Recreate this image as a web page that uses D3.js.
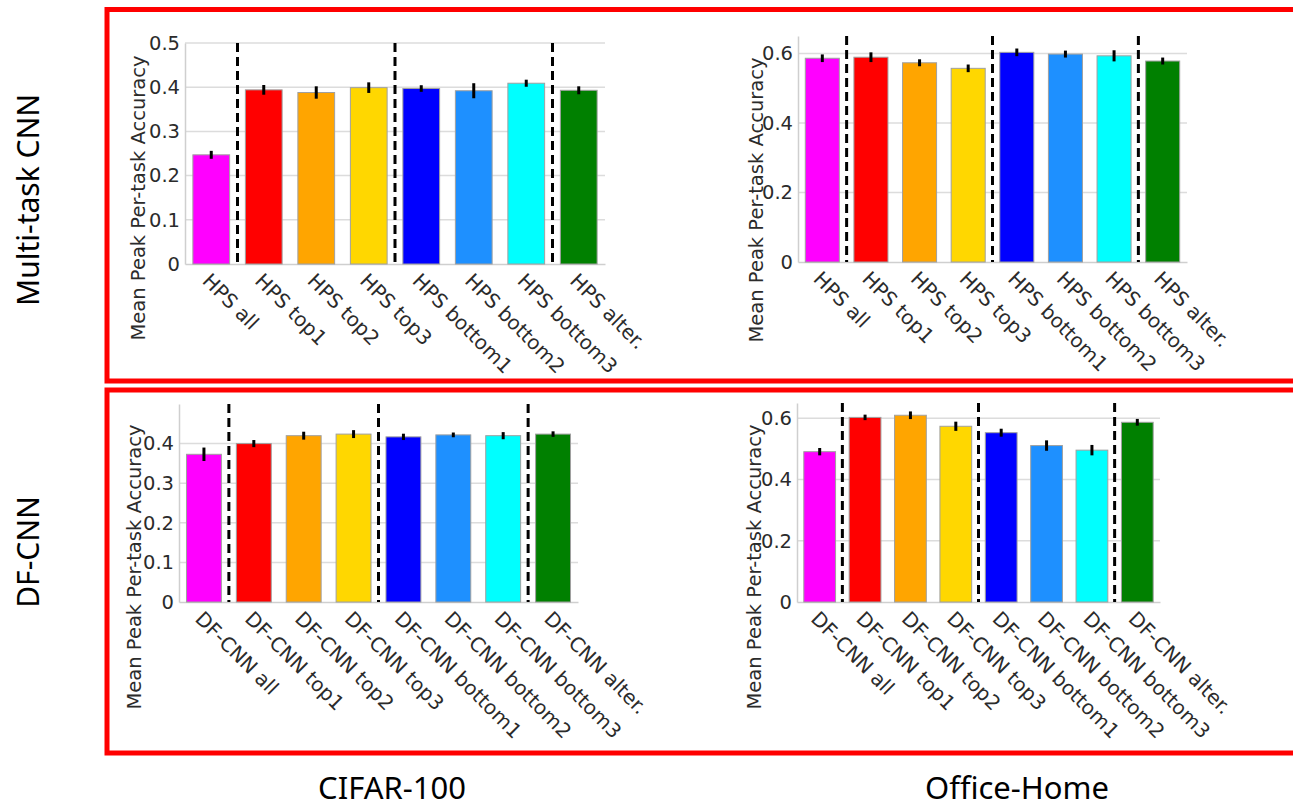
<!DOCTYPE html>
<html>
<head>
<meta charset="utf-8">
<script src="https://cdn.jsdelivr.net/npm/d3@7"></script>
<style>
	body { margin: 0; background: #fff; }
	svg { display: block; }
</style>
</head>
<body>
<script>
// DATA
const hpsCategories = ['HPS all', 'HPS top1', 'HPS top2', 'HPS top3', 'HPS bottom1', 'HPS bottom2', 'HPS bottom3', 'HPS alter.'];
const dfCategories = ['DF-CNN all', 'DF-CNN top1', 'DF-CNN top2', 'DF-CNN top3', 'DF-CNN bottom1', 'DF-CNN bottom2', 'DF-CNN bottom3', 'DF-CNN alter.'];

const hpsCifarMean = [0.247, 0.394, 0.388, 0.399, 0.397, 0.392, 0.409, 0.393];
const hpsCifarErr = [0.009, 0.011, 0.014, 0.012, 0.0075, 0.017, 0.008, 0.009];
const hpsOfficeMean = [0.586, 0.589, 0.573, 0.557, 0.603, 0.598, 0.593, 0.578];
const hpsOfficeErr = [0.011, 0.014, 0.010, 0.011, 0.011, 0.010, 0.016, 0.010];
const dfCifarMean = [0.373, 0.400, 0.420, 0.424, 0.417, 0.422, 0.420, 0.424];
const dfCifarErr = [0.017, 0.009, 0.010, 0.010, 0.008, 0.006, 0.009, 0.007];
const dfOfficeMean = [0.491, 0.603, 0.610, 0.574, 0.553, 0.511, 0.496, 0.587];
const dfOfficeErr = [0.012, 0.009, 0.0125, 0.015, 0.013, 0.017, 0.017, 0.011];

const cifarTicks = [0, 0.1, 0.2, 0.3, 0.4, 0.5];
const dfCifarTicks = [0, 0.1, 0.2, 0.3, 0.4];
const officeTicks = [0, 0.2, 0.4, 0.6];

// groups start before these categories (dashed separators)
const separators = [1, 4, 7];

const rowLabels = ['Multi-task CNN', 'DF-CNN'];
const columnLabels = ['CIFAR-100', 'Office-Home'];
const yLabel = 'Mean Peak Per-task Accuracy';

// CONFIGURATION
const width = 1293;
const height = 807;
const palette = ['#ff00ff', '#ff0000', '#ffa500', '#ffd700', '#0000ff', '#1e90ff', '#00ffff', '#008000'];
const tickFont = 'DejaVu Sans, sans-serif';
const textColor = '#2b2b2b';

const panels = [
	{ categories: hpsCategories, mean: hpsCifarMean, err: hpsCifarErr, ticks: cifarTicks, max: 0.5,
		left: 185, right: 605, top: 43, bottom: 264, labelX: 145, labelY: 198 },
	{ categories: hpsCategories, mean: hpsOfficeMean, err: hpsOfficeErr, ticks: officeTicks, max: 0.65,
		left: 798, right: 1187, top: 36, bottom: 262, labelX: 763, labelY: 200 },
	{ categories: dfCategories, mean: dfCifarMean, err: dfCifarErr, ticks: dfCifarTicks, max: 0.5,
		left: 179, right: 578, top: 404, bottom: 602, labelX: 141, labelY: 567 },
	{ categories: dfCategories, mean: dfOfficeMean, err: dfOfficeErr, ticks: officeTicks, max: 0.65,
		left: 797, right: 1160, top: 403, bottom: 602, labelX: 761, labelY: 567 }
];

const svg = d3.select('body')
	.append('svg')
	.attr('width', width)
	.attr('height', height);

svg.append('rect')
	.attr('width', width)
	.attr('height', height)
	.attr('fill', '#fff');

// RED FRAMES
[[9.5, 381], [390, 753]].forEach(([y0, y1]) => {
	svg.append('rect')
		.attr('x', 107)
		.attr('y', y0)
		.attr('width', 1250)
		.attr('height', y1 - y0)
		.attr('fill', 'none')
		.attr('stroke', '#ff0000')
		.attr('stroke-width', 5);
});

// PANELS
panels.forEach(panel => {
	const g = svg.append('g');

	const xScale = d3.scaleBand()
		.domain(panel.categories)
		.range([panel.left, panel.right])
		.paddingInner(0.3)
		.paddingOuter(0.15);

	const yScale = d3.scaleLinear()
		.domain([0, panel.max])
		.range([panel.bottom, panel.top]);

	// grid
	g.selectAll('.grid')
		.data(panel.ticks.filter(t => t > 0))
		.enter()
		.append('line')
		.attr('x1', panel.left)
		.attr('x2', panel.right)
		.attr('y1', t => yScale(t))
		.attr('y2', t => yScale(t))
		.attr('stroke', '#dcdcdc')
		.attr('stroke-width', 1.5);

	// y axis
	const yAxis = d3.axisLeft(yScale)
		.tickValues(panel.ticks)
		.tickSize(0)
		.tickPadding(5)
		.tickFormat(t => t === 0 ? '0' : d3.format('.1f')(t));
	const yg = g.append('g')
		.attr('transform', `translate(${panel.left}, 0)`)
		.call(yAxis);
	yg.select('.domain')
		.attr('stroke', '#cfcfcf')
		.attr('stroke-width', 1.5);
	yg.selectAll('text')
		.attr('fill', textColor)
		.style('font-family', tickFont)
		.style('font-size', '19.5px');

	// x axis
	const xAxis = d3.axisBottom(xScale)
		.tickSize(0)
		.tickFormat('');
	const xg = g.append('g')
		.attr('transform', `translate(0, ${panel.bottom})`)
		.call(xAxis);
	xg.select('.domain')
		.attr('stroke', '#cfcfcf')
		.attr('stroke-width', 1.5);

	// bars
	g.selectAll('.bar')
		.data(panel.mean)
		.enter()
		.append('rect')
		.attr('x', (d, i) => xScale(panel.categories[i]))
		.attr('y', d => yScale(d))
		.attr('width', xScale.bandwidth())
		.attr('height', d => panel.bottom - yScale(d))
		.attr('fill', (d, i) => palette[i])
		.attr('stroke', '#a0a0a0')
		.attr('stroke-width', 1);

	// error bars
	g.selectAll('.err')
		.data(panel.mean)
		.enter()
		.append('line')
		.attr('x1', (d, i) => xScale(panel.categories[i]) + xScale.bandwidth() / 2)
		.attr('x2', (d, i) => xScale(panel.categories[i]) + xScale.bandwidth() / 2)
		.attr('y1', (d, i) => yScale(d - panel.err[i]))
		.attr('y2', (d, i) => yScale(d + panel.err[i]))
		.attr('stroke', '#000')
		.attr('stroke-width', 3);

	// separators
	g.selectAll('.sep')
		.data(separators)
		.enter()
		.append('line')
		.attr('x1', i => xScale(panel.categories[i]) - xScale.step() * xScale.paddingInner() / 2)
		.attr('x2', i => xScale(panel.categories[i]) - xScale.step() * xScale.paddingInner() / 2)
		.attr('y1', panel.top)
		.attr('y2', panel.bottom)
		.attr('stroke', '#000')
		.attr('stroke-width', 3)
		.attr('stroke-dasharray', '9,5');

	// category labels
	g.selectAll('.cat')
		.data(panel.categories)
		.enter()
		.append('text')
		.attr('transform', c => `translate(${xScale(c) + xScale.bandwidth() / 2 - 10}, ${panel.bottom + 18}) rotate(45)`)
		.attr('fill', textColor)
		.style('font-family', tickFont)
		.style('font-size', '20px')
		.text(c => c);

	// y label
	g.append('text')
		.attr('transform', `translate(${panel.labelX}, ${panel.labelY}) rotate(-90)`)
		.attr('text-anchor', 'middle')
		.attr('fill', textColor)
		.style('font-family', tickFont)
		.style('font-size', '19.5px')
		.text(yLabel);
});

// ROW & COLUMN LABELS
svg.selectAll('.row')
	.data(rowLabels)
	.enter()
	.append('text')
	.attr('transform', (d, i) => `translate(39, ${[200, 552][i]}) rotate(-90)`)
	.attr('text-anchor', 'middle')
	.attr('fill', '#000')
	.style('font-family', 'Noto Sans, sans-serif')
	.style('font-size', '30px')
	.text(d => d);

svg.selectAll('.col')
	.data(columnLabels)
	.enter()
	.append('text')
	.attr('x', (d, i) => [392, 1017][i])
	.attr('y', 799)
	.attr('text-anchor', 'middle')
	.attr('fill', '#000')
	.style('font-family', 'Noto Sans, sans-serif')
	.style('font-size', '31px')
	.text(d => d);
</script>
</body>
</html>
